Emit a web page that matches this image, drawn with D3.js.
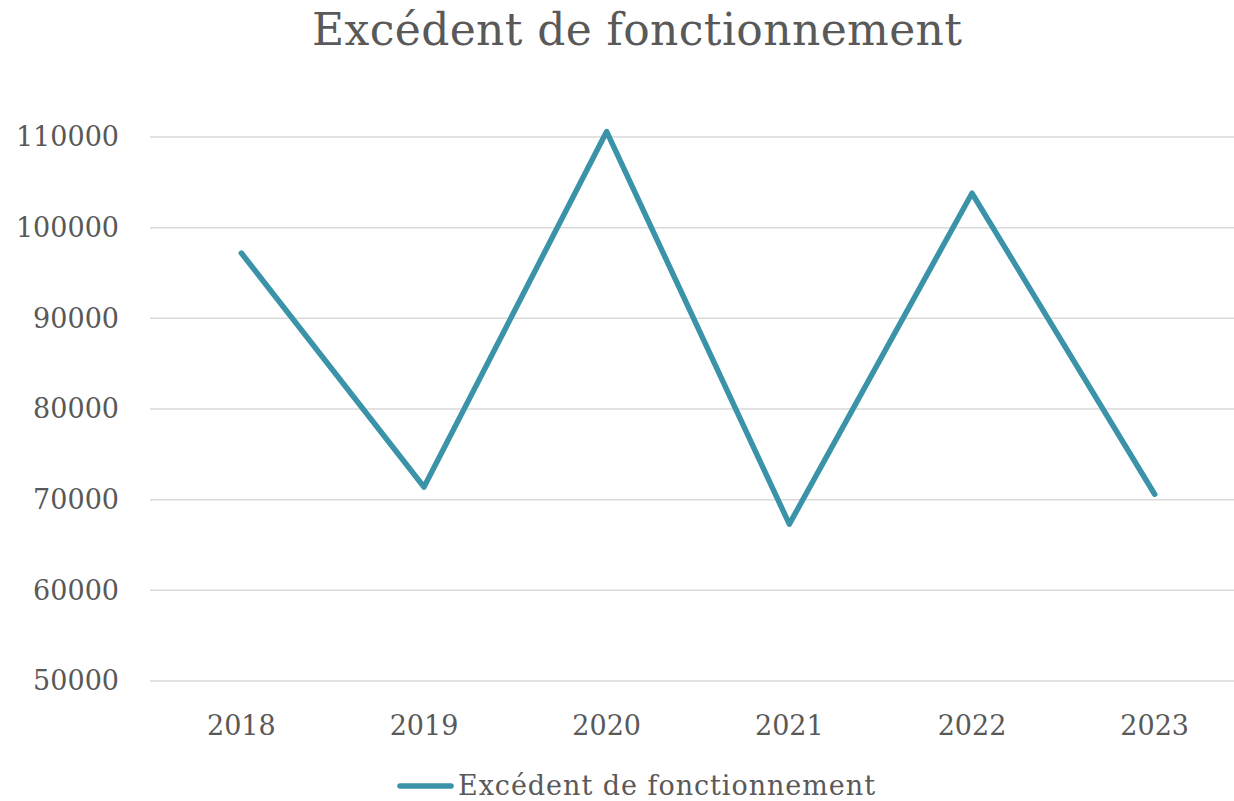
<!DOCTYPE html>
<html>
<head>
<meta charset="utf-8">
<script src="https://cdn.jsdelivr.net/npm/d3@7"></script>
<style>
  body { margin: 0; background: #fff; }
  text { font-family: "DejaVu Serif", serif; fill: #595959; }
</style>
</head>
<body>
<div id="chart"></div>
<script>
const years = ['2018', '2019', '2020', '2021', '2022', '2023'];
const excedent = [97200, 71400, 110600, 67300, 103800, 70600];
const yTicks = [50000, 60000, 70000, 80000, 90000, 100000, 110000];
const seriesName = 'Excédent de fonctionnement';

const W = 1234, H = 801;
const lineColor = '#3a93a8';

const svg = d3.select('#chart').append('svg').attr('width', W).attr('height', H);

const x = d3.scaleBand().domain(years).range([150, 1246]);
const y = d3.scaleLinear().domain([50000, 110000]).range([681, 137]);

// title
svg.append('text')
  .attr('x', 637).attr('y', 45)
  .attr('text-anchor', 'middle')
  .attr('textLength', 650)
  .attr('lengthAdjust', 'spacing')
  .style('font-size', '44px')
  .text(seriesName);

// gridlines
svg.append('g')
  .selectAll('line')
  .data(yTicks)
  .join('line')
  .attr('x1', 150).attr('x2', W)
  .attr('y1', d => y(d)).attr('y2', d => y(d))
  .attr('stroke', '#d9d9d9').attr('stroke-width', 1.5);

// y labels
svg.append('g')
  .selectAll('text')
  .data(yTicks)
  .join('text')
  .attr('x', 119).attr('y', d => y(d))
  .attr('dy', '0.35em')
  .attr('text-anchor', 'end')
  .style('font-size', '27px')
  .text(d => d);

// x labels
svg.append('g')
  .selectAll('text')
  .data(years)
  .join('text')
  .attr('x', d => x(d) + x.bandwidth() / 2).attr('y', 726)
  .attr('dy', '0.35em')
  .attr('text-anchor', 'middle')
  .style('font-size', '27px')
  .text(d => d);

// line
const line = d3.line()
  .x((d, i) => x(years[i]) + x.bandwidth() / 2)
  .y(d => y(d));

svg.append('path')
  .datum(excedent)
  .attr('d', line)
  .attr('fill', 'none')
  .attr('stroke', lineColor)
  .attr('stroke-width', 5.5)
  .attr('stroke-linejoin', 'round')
  .attr('stroke-linecap', 'round');

// legend
const lg = svg.append('g');
lg.append('line')
  .attr('x1', 400).attr('x2', 451)
  .attr('y1', 786).attr('y2', 786)
  .attr('stroke', lineColor).attr('stroke-width', 5.5)
  .attr('stroke-linecap', 'round');
lg.append('text')
  .attr('x', 458).attr('y', 786)
  .attr('dy', '0.35em')
  .attr('textLength', 417)
  .attr('lengthAdjust', 'spacing')
  .style('font-size', '27px')
  .text(seriesName);
</script>
</body>
</html>
